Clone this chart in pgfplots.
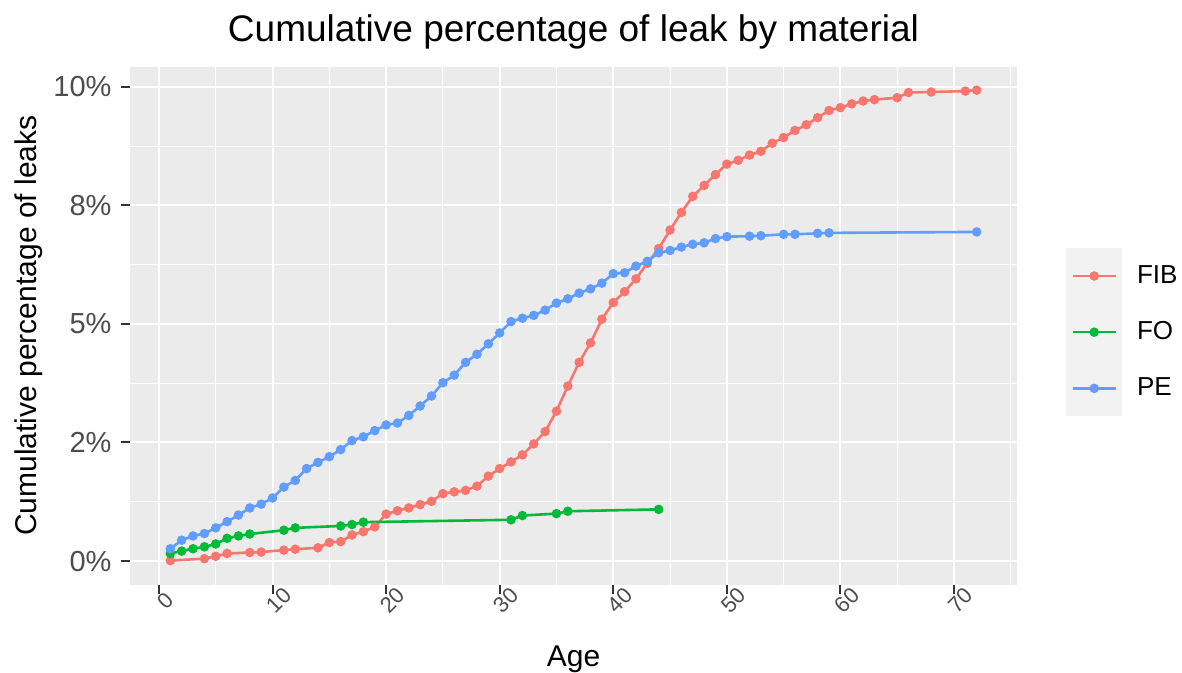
\documentclass[border=0pt]{standalone}
\usepackage{fontspec}
\setmainfont{Liberation Sans}
\usepackage{pgfplots}
\pgfplotsset{compat=1.18}

\definecolor{fibcol}{HTML}{F8766D}
\definecolor{focol}{HTML}{00BA38}
\definecolor{pecol}{HTML}{619CFF}
\definecolor{panelbg}{HTML}{EBEBEB}
\definecolor{keybg}{HTML}{F2F2F2}
\definecolor{grey30}{HTML}{4D4D4D}
\definecolor{grey20}{HTML}{333333}

\begin{document}
\begin{tikzpicture}
\begin{axis}[
    name=ax,
    scale only axis, width=443.5pt, height=259pt,
    xmin=-2.55, xmax=75.55, ymin=-0.4965, ymax=10.4265,
    axis line style={draw=none},
    axis background/.style={fill=panelbg},
    xtick={0,10,...,70}, minor xtick={5,15,...,75},
    ytick={0,2.5,5,7.5,10}, yticklabels={0\%,2\%,5\%,8\%,10\%},
    minor ytick={1.25,3.75,6.25,8.75},
    xtick pos=left, ytick pos=left,
    tick align=outside,
    major tick length=4.7pt, minor tick length=0pt,
    major tick style={grey20, line width=1pt},
    grid=both,
    major grid style={white, line width=1pt},
    minor grid style={white, line width=0.5pt},
    /pgf/number format/assume math mode=true,
    yticklabel style={font=\fontsize{14.5}{17}\selectfont, text=grey30, xshift=-1pt},
    xticklabel style={font=\fontsize{11}{13}\selectfont, text=grey30, rotate=45, anchor=north, inner sep=0.5pt},
    title={Cumulative percentage of leak by material},
    title style={font=\fontsize{18.5}{22}\selectfont, at={([yshift=6.5pt]axis description cs:0.5,1)}, anchor=base},
    xlabel={Age},
    xlabel style={font=\fontsize{15}{18}\selectfont, at={([yshift=-41pt]axis description cs:0.5,0)}, anchor=base},
    ylabel={Cumulative percentage of leaks},
    ylabel style={font=\fontsize{15}{18}\selectfont, at={([xshift=-46.5pt]axis description cs:0,0.5)}, anchor=base},
    legend style={at={([xshift=24.5pt,yshift=-3.3pt]axis description cs:1,0.5)}, anchor=west,
        draw=none, fill=none, inner sep=0pt, row sep=0pt, column sep=7.5pt,
        font=\fontsize{13}{15}\selectfont, nodes={inner sep=0pt}},
    legend cell align=left,
    legend image code/.code={
        \fill[keybg] (0pt,-13.4pt) rectangle (26.5pt,13.4pt);
        \draw[mark repeat=2, mark phase=2, #1] plot coordinates {(2.5pt,0pt) (13.25pt,0pt) (24pt,0pt)};
    },
    every axis plot/.append style={line width=1.3pt, mark=*, mark size=1.7pt, mark options={solid}},
]
% FIB
\addplot[fibcol] coordinates {
(1,0.01) (4,0.05) (5,0.10) (6,0.16) (8,0.18) (9,0.19) (11,0.23) (12,0.25)
(14,0.28) (15,0.39) (16,0.41) (17,0.55) (18,0.62) (19,0.72) (20,0.99) (21,1.06)
(22,1.12) (23,1.19) (24,1.26) (25,1.42) (26,1.46) (27,1.49) (28,1.58) (29,1.79)
(30,1.95) (31,2.09) (32,2.24) (33,2.47) (34,2.73) (35,3.16) (36,3.69) (37,4.19)
(38,4.60) (39,5.10) (40,5.45) (41,5.68) (42,5.95) (43,6.28) (44,6.59) (45,6.98)
(46,7.35) (47,7.69) (48,7.92) (49,8.15) (50,8.37) (51,8.45) (52,8.56) (53,8.64)
(54,8.81) (55,8.93) (56,9.08) (57,9.20) (58,9.35) (59,9.50) (60,9.56) (61,9.64)
(62,9.70) (63,9.73) (65,9.77) (66,9.88) (68,9.89) (71,9.91) (72,9.93)
};
\addlegendentry{FIB}
% FO
\addplot[focol] coordinates {
(1,0.16) (2,0.21) (3,0.26) (4,0.30) (5,0.36) (6,0.48) (7,0.53) (8,0.57)
(11,0.65) (12,0.70) (16,0.74) (17,0.77) (18,0.82) (31,0.87) (32,0.96)
(35,1.00) (36,1.05) (44,1.09)
};
\addlegendentry{FO}
% PE
\addplot[pecol] coordinates {
(1,0.26) (2,0.44) (3,0.53) (4,0.58) (5,0.70) (6,0.83) (7,0.97) (8,1.12)
(9,1.20) (10,1.33) (11,1.56) (12,1.70) (13,1.95) (14,2.08) (15,2.20) (16,2.35)
(17,2.54) (18,2.62) (19,2.75) (20,2.87) (21,2.91) (22,3.07) (23,3.27) (24,3.48)
(25,3.76) (26,3.92) (27,4.19) (28,4.36) (29,4.58) (30,4.81) (31,5.05) (32,5.12)
(33,5.18) (34,5.29) (35,5.44) (36,5.53) (37,5.65) (38,5.74) (39,5.86) (40,6.06)
(41,6.08) (42,6.22) (43,6.32) (44,6.50) (45,6.55) (46,6.62) (47,6.68) (48,6.71)
(49,6.80) (50,6.84) (52,6.85) (53,6.86) (55,6.89) (56,6.89) (58,6.91) (59,6.92)
(72,6.94)
};
\addlegendentry{PE}
\end{axis}
\pgfresetboundingbox
\path ([xshift=-65pt,yshift=-44pt]ax.south west) rectangle ([xshift=82.5pt,yshift=33.3pt]ax.north east);
\end{tikzpicture}
\end{document}
